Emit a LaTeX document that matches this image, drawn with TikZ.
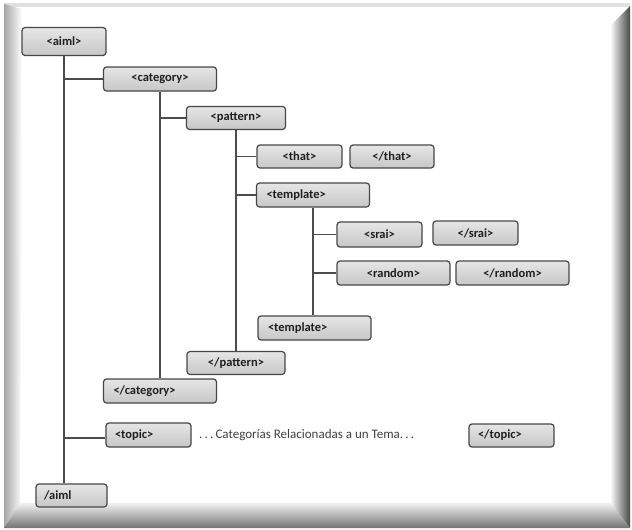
\documentclass[tikz,border=0pt]{standalone}
\usepackage{fontspec}
\setmainfont{Carlito}
\begin{document}
\begin{tikzpicture}[x=1pt,y=-1pt,
  tag/.style={draw=black!72, line width=1.2pt, rounded corners=3pt,
    top color=black!10, bottom color=black!22, inner sep=0pt,
    text=black!88, font=\bfseries\fontsize{12.5}{14}\selectfont},
  conn/.style={draw=black!70, line width=1.5pt}]
\useasboundingbox (0,0) rectangle (632,530);
% picture frame with bevelled edges
\fill[white] (0,0) rectangle (632,530);
\fill[black!12] (4,3) rectangle (630,7);
\shade[left color=black!35, right color=white] (4,4) -- (22,9) -- (20,503) -- (4,528) -- cycle;
\shade[left color=white, right color=black!72] (610,26) -- (630,6) -- (630,528) -- (610,503) -- cycle;
\shade[top color=black!5, bottom color=black!55] (4,528) -- (20,503) -- (610,503) -- (630,528) -- cycle;
% tags
\node[tag, minimum width=84pt, minimum height=28pt] (aiml) at (64,41.5) {<aiml>};
\node[tag, minimum width=113pt, minimum height=24pt] (category) at (160,79) {<category>};
\node[tag, minimum width=99pt, minimum height=23pt] (pattern) at (236,118) {<pattern>};
\node[tag, minimum width=85pt, minimum height=23pt] (that) at (299.5,156.5) {<that>};
\node[tag, minimum width=84pt, minimum height=23pt] (endthat) at (392,156.5) {</that>};
\node[tag, minimum width=113pt, minimum height=24pt, text width=93pt, align=left] (template) at (313,195) {<template>};
\node[tag, minimum width=85pt, minimum height=25pt] (srai) at (379.5,234.5) {<srai>};
\node[tag, minimum width=85pt, minimum height=24pt] (endsrai) at (475.5,233) {</srai>};
\node[tag, minimum width=113pt, minimum height=24pt] (random) at (393.5,273) {<random>};
\node[tag, minimum width=113pt, minimum height=24pt] (endrandom) at (512.5,273) {</random>};
\node[tag, minimum width=113pt, minimum height=24pt, text width=93pt, align=left] (template2) at (314.5,328) {<template>};
\node[tag, minimum width=98pt, minimum height=23pt] (endpattern) at (236,363) {</pattern>};
\node[tag, minimum width=113pt, minimum height=24pt, text width=93pt, align=left] (endcategory) at (160,391) {</category>};
\node[tag, minimum width=85pt, minimum height=24pt, text width=67pt, align=left] (topic) at (148.5,435) {<topic>};
\node[tag, minimum width=85pt, minimum height=23pt, text width=67pt, align=left] (endtopic) at (511.5,435.5) {</topic>};
\node[tag, minimum width=71pt, minimum height=23pt, text width=55pt, align=left] (endaiml) at (71.5,495.5) {/aiml};
\node[anchor=west, inner sep=0pt, text=black!75, font=\fontsize{13}{14}\selectfont] (topictext) at (199,435) {.\,.\,.\,Categorías Relacionadas a un Tema.\,.\,.};
% nesting lines
\draw[conn] (aiml.south) -- (aiml.south |- endaiml.north);
\draw[conn] (aiml.south |- category.west) -- (category.west);
\draw[conn] (aiml.south |- 0,438) -- (topic.west |- 0,438);
\draw[conn] (category.south) -- (endcategory.north);
\draw[conn] (category.south |- pattern.west) -- (pattern.west);
\draw[conn] (pattern.south) -- (endpattern.north);
\draw[conn] (pattern.south |- that.west) -- (that.west);
\draw[conn] (pattern.south |- template.west) -- (template.west);
\draw[conn] (template.south) -- (template.south |- template2.north);
\draw[conn] (template.south |- srai.west) -- (srai.west);
\draw[conn] (template.south |- random.west) -- (random.west);
\end{tikzpicture}
\end{document}
